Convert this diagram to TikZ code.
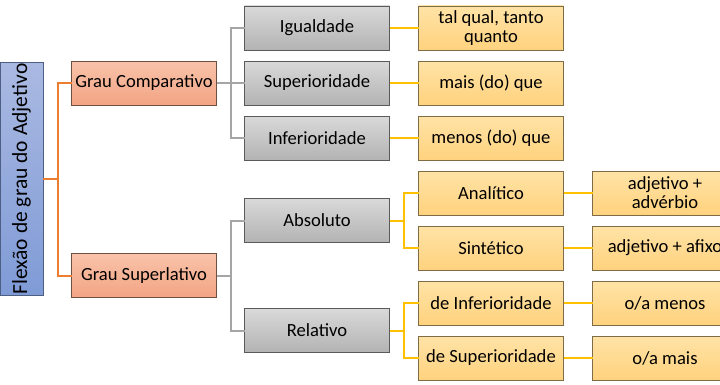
\documentclass[tikz,border=0pt]{standalone}
\usepackage{fontspec}
\setmainfont{Carlito}
\usetikzlibrary{positioning, calc}
\definecolor{rootTop}{HTML}{AAB9E2}
\definecolor{rootBot}{HTML}{7F9BD6}
\definecolor{rootLine}{HTML}{4E5F86}
\definecolor{gradeTop}{HTML}{F8C3AA}
\definecolor{gradeBot}{HTML}{F3A484}
\definecolor{gradeLine}{HTML}{6E4F42}
\definecolor{typeTop}{HTML}{D9D9D9}
\definecolor{typeBot}{HTML}{B3B3B3}
\definecolor{typeLine}{HTML}{5A5A5A}
\definecolor{formTop}{HTML}{FFE3A6}
\definecolor{formBot}{HTML}{FFD27E}
\definecolor{formLine}{HTML}{7D6C45}
\definecolor{linkOrange}{HTML}{ED7D31}
\definecolor{linkGray}{HTML}{A5A5A5}
\definecolor{linkGold}{HTML}{FFC000}

\begin{document}
\begin{tikzpicture}[
    x=1pt, y=1pt,
    font=\fontsize{18.6}{19}\selectfont,
    box/.style={rectangle, draw, line width=0.8pt, outer sep=0pt, minimum width=145pt, minimum height=44pt, align=center, inner sep=1pt},
    rootbox/.style={box, rotate=90, minimum width=232pt, minimum height=43pt, font=\fontsize{21.5}{22}\selectfont, top color=rootTop, bottom color=rootBot, draw=rootLine},
    gradebox/.style={box, top color=gradeTop, bottom color=gradeBot, draw=gradeLine},
    typebox/.style={box, top color=typeTop, bottom color=typeBot, draw=typeLine},
    formbox/.style={box, top color=formTop, bottom color=formBot, draw=formLine},
    orangelink/.style={draw=linkOrange, line width=2pt},
    graylink/.style={draw=linkGray, line width=2pt},
    goldlink/.style={draw=linkGold, line width=2pt}
]
\useasboundingbox (0,0) rectangle (720,384);
\clip (0,0) rectangle (720,384);

% yellow column, one stack
\node[formbox] (tal) at (491,356) {tal qual, tanto\\quanto};
\node[formbox, below=11pt of tal] (mais) {mais (do) que};
\node[formbox, below=11pt of mais] (menos) {menos (do) que};
\node[formbox, below=11pt of menos] (anal) {Analítico};
\node[formbox, below=11pt of anal] (sint) {Sintético};
\node[formbox, below=11pt of sint] (rinf) {de Inferioridade};
\node[formbox, below=11pt of rinf] (rsup) {de Superioridade};

% outer column
\node[formbox, right=29pt of anal] (advb) {adjetivo +\\advérbio};
\node[formbox, right=29pt of sint] (afix) {adjetivo + afixo};
\node[formbox, right=29pt of rinf] (omenos) {o/a menos};
\node[formbox, right=29pt of rsup] (omais) {o/a mais};

% gray column
\node[typebox, left=29pt of tal] (igual) {Igualdade};
\node[typebox, left=29pt of mais] (super) {Superioridade};
\node[typebox, left=29pt of menos] (infer) {Inferioridade};
\coordinate (mAbs) at ($(anal.west)!0.5!(sint.west)$);
\coordinate (mRel) at ($(rinf.west)!0.5!(rsup.west)$);
\node[typebox, left=29pt of mAbs] (abs) {Absoluto};
\node[typebox, left=29pt of mRel] (rel) {Relativo};

% grades
\node[gradebox, left=28pt of super] (comp) {Grau Comparativo};
\coordinate (mSup) at ($(abs.west)!0.5!(rel.west)$);
\node[gradebox, left=28pt of mSup] (sprl) {Grau Superlativo};

% root
\node[rootbox] (root) at (21.5,205) {Flexão de grau do Adjetivo};

% Links
\draw[orangelink] (root.south) -- ++(15,0) coordinate (jRoot);
\draw[orangelink] (comp.west) -| (jRoot) |- (sprl.west);
\draw[graylink] (comp.east) -- ++(14,0) coordinate (jComp);
\draw[graylink] (igual.west) -| (jComp) |- (infer.west);
\draw[graylink] (jComp) -- (super.west);
\draw[graylink] (sprl.east) -- ++(14,0) coordinate (jSprl);
\draw[graylink] (abs.west) -| (jSprl) |- (rel.west);
\draw[goldlink] (abs.east) -- ++(14,0) coordinate (jAbs);
\draw[goldlink] (anal.west) -| (jAbs) |- (sint.west);
\draw[goldlink] (rel.east) -- ++(14,0) coordinate (jRel);
\draw[goldlink] (rinf.west) -| (jRel) |- (rsup.west);
\draw[goldlink] (igual) -- (tal);
\draw[goldlink] (super) -- (mais);
\draw[goldlink] (infer) -- (menos);
\draw[goldlink] (anal) -- (advb);
\draw[goldlink] (sint) -- (afix);
\draw[goldlink] (rinf) -- (omenos);
\draw[goldlink] (rsup) -- (omais);
\end{tikzpicture}
\end{document}
